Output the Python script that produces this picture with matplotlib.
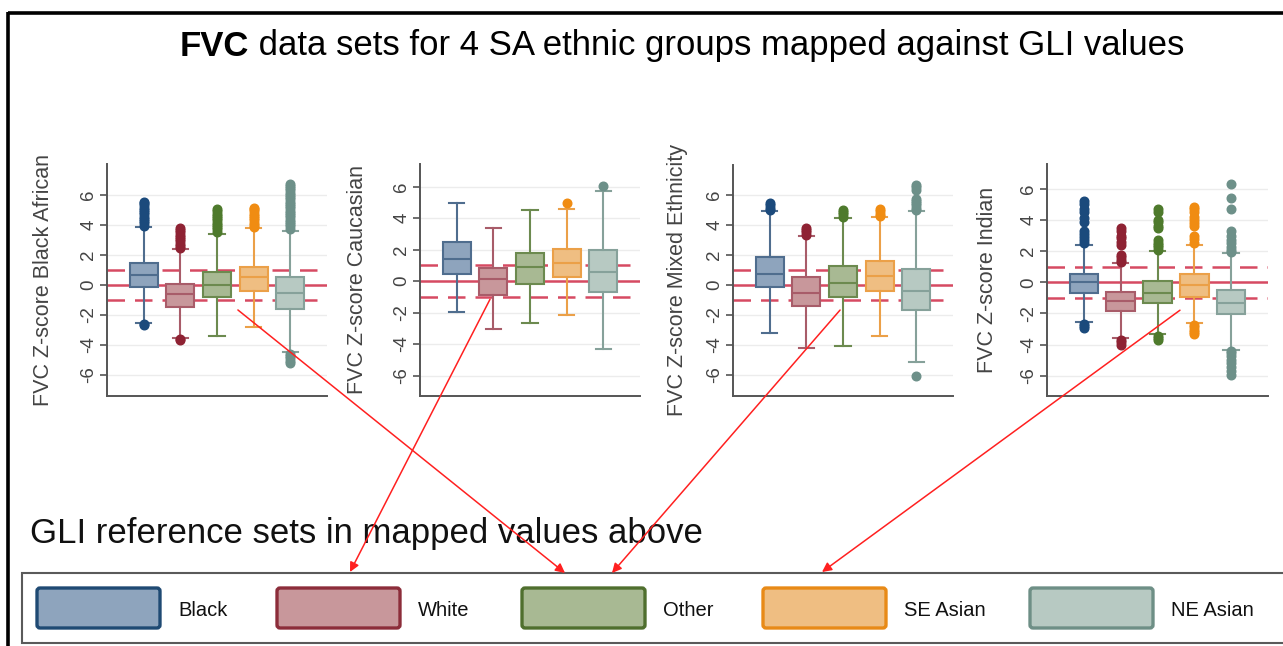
import matplotlib.pyplot as plt
from matplotlib.patches import Rectangle, FancyBboxPatch

plt.rcParams['font.family'] = ['Liberation Sans', 'DejaVu Sans']

W, H = 1283, 646

groups = ['Black', 'White', 'Other', 'SE Asian', 'NE Asian']
panel_labels = ['FVC Z-score Black African', 'FVC Z-score Caucasian',
                'FVC Z-score Mixed Ethnicity', 'FVC Z-score Indian']

# box statistics, one row per panel, one value per GLI reference group
medians = [[0.67, -0.60, 0.00, 0.51, -0.51],
           [1.39, 0.17, 0.90, 1.14, 0.60],
           [0.73, -0.51, 0.16, 0.60, -0.38],
           [0.00, -1.23, -0.69, -0.19, -1.34]]
q1s = [[-0.16, -1.44, -0.84, -0.38, -1.60],
       [0.43, -0.86, -0.21, 0.28, -0.69],
       [-0.16, -1.40, -0.82, -0.38, -1.67],
       [-0.69, -1.81, -1.34, -0.91, -2.03]]
q3s = [[1.44, 0.07, 0.84, 1.22, 0.51],
       [2.46, 0.86, 1.82, 2.04, 1.97],
       [1.89, 0.51, 1.29, 1.62, 1.04],
       [0.56, -0.65, 0.06, 0.56, -0.48]]
whis_lo = [[-2.56, -3.55, -3.40, -2.82, -4.49],
           [-1.93, -3.04, -2.68, -2.14, -4.33],
           [-3.22, -4.22, -4.04, -3.38, -5.11],
           [-2.53, -3.60, -3.33, -2.63, -4.32]]
whis_hi = [[3.84, 2.38, 3.40, 3.78, 3.62],
           [4.99, 3.39, 4.50, 4.56, 5.72],
           [4.93, 3.27, 4.44, 4.51, 4.93],
           [2.38, 1.21, 2.00, 2.38, 1.90]]

# outlying z-scores beyond the whiskers
fliers = [
    [[3.95, 4.1, 4.25, 4.4, 4.55, 4.7, 4.85, 5.0, 5.15, 5.3, 5.45, 5.55, -2.62, -2.7],
     [2.45, 2.6, 2.75, 2.9, 3.05, 3.2, 3.35, 3.5, 3.65, 3.8, -3.62, -3.7],
     [3.55, 3.7, 3.85, 4.0, 4.15, 4.3, 4.45, 4.6, 4.75, 4.9, 5.05],
     [3.85, 4.0, 4.15, 4.3, 4.45, 4.6, 4.75, 4.9, 5.05, 5.15],
     [3.75, 3.9, 4.05, 4.2, 4.35, 4.5, 4.65, 4.8, 4.95, 5.1, 5.25, 5.4, 5.55, 5.7,
      5.85, 6.0, 6.15, 6.3, 6.45, 6.6, 6.7, -4.6, -4.75, -4.9, -5.05, -5.2]],
    [[],
     [],
     [],
     [5.0],
     [6.06]],
    [[5.0, 5.15, 5.3, 5.45],
     [3.35, 3.5, 3.65, 3.8],
     [4.55, 4.7, 4.85, 5.0],
     [4.6, 4.75, 4.9, 5.05],
     [5.0, 5.15, 5.3, 5.45, 5.6, 5.75, 6.35, 6.5, 6.65, -6.05]],
    [[2.5, 2.7, 2.9, 3.1, 3.3, 3.9, 4.1, 4.5, 4.7, 5.0, 5.25, -2.65, -2.8, -2.95],
     [1.3, 1.45, 1.6, 1.75, 2.4, 2.6, 2.85, 3.0, 3.3, 3.5, -3.7, -3.85, -4.0],
     [2.1, 2.25, 2.4, 2.55, 2.7, 3.5, 3.65, 3.85, 4.0, 4.5, 4.7, -3.45, -3.6, -3.7],
     [2.5, 2.8, 2.95, 3.6, 3.8, 4.0, 4.2, 4.5, 4.7, 4.85, -2.75, -2.9, -3.05, -3.2, -3.35],
     [1.95, 2.1, 2.3, 2.5, 2.7, 3.0, 3.3, 4.7, 5.4, 6.3,
      -4.4, -4.55, -4.7, -5.0, -5.2, -5.45, -5.7, -5.95]],
]

# GLI reference band: predicted zero and +/- 1 z-score
ref_mid = 0.0
ref_band = [-1.0, 1.0]

fills = ['#8ea4bd', '#c8979b', '#a8b993', '#efbe82', '#b7c9c2']
lines = ['#4f6d8e', '#a85c69', '#6c8a4f', '#eba048', '#86a19a']
dots = ['#1b4a7c', '#8e2233', '#4e7a2c', '#f08c12', '#6d9089']
legend_edges = ['#1f4a73', '#8c2d3a', '#4f6f2e', '#e88a17', '#6e8f86']
ref_color = '#d64a62'

# panel rectangles in pixels: left, top, right, bottom
panel_px = [(107, 164, 327, 396), (420, 164, 640, 396),
            (733, 165, 953, 396), (1047, 164, 1268, 396)]
panel_ylims = [(-7.4, 8.05), (-7.3, 7.45), (-7.4, 8.0), (-7.3, 7.6)]
label_x = [-0.24, -0.236, -0.205, -0.22]

fig = plt.figure(figsize=(W / 100, H / 100), dpi=100)
fig.patch.set_facecolor('white')

axes = []
for k, (l, t, r, b) in enumerate(panel_px):
    ax = fig.add_axes([l / W, 1 - b / H, (r - l) / W, (b - t) / H])
    axes.append(ax)
    stats = []
    for i in range(len(groups)):
        stats.append(dict(med=medians[k][i], q1=q1s[k][i], q3=q3s[k][i],
                          whislo=whis_lo[k][i], whishi=whis_hi[k][i],
                          fliers=fliers[k][i]))
    for i in range(len(groups)):
        ax.bxp([stats[i]], positions=[i + 1], widths=0.77, capwidths=0.42,
               patch_artist=True, manage_ticks=False,
               boxprops=dict(facecolor=fills[i], edgecolor=lines[i], linewidth=1.5),
               medianprops=dict(color=lines[i], linewidth=1.5),
               whiskerprops=dict(color=lines[i], linewidth=1.5),
               capprops=dict(color=lines[i], linewidth=1.5),
               flierprops=dict(marker='o', markersize=6.2, markerfacecolor=dots[i],
                               markeredgecolor=dots[i], linestyle='none'))
    for coll in ax.patches:
        coll.set_zorder(3)
    for ln in ax.lines:
        ln.set_zorder(4)

    ax.axhline(ref_mid, color=ref_color, lw=1.8, zorder=2)
    for v in ref_band:
        ax.axhline(v, color=ref_color, lw=1.8, ls=(0, (7, 4)), zorder=2)

    ax.set_xlim(0, 6)
    ax.set_ylim(*panel_ylims[k])
    ax.set_yticks([-6, -4, -2, 0, 2, 4, 6])
    ax.set_yticklabels(['-6', '-4', '-2', '0', '2', '4', '6'])
    ax.set_xticks([])
    ax.grid(axis='y', color='#ececec', lw=1.0, zorder=0)
    ax.set_axisbelow(True)
    ax.tick_params(axis='y', length=5, width=1.2, color='#555555', pad=2,
                   labelsize=13.5, labelcolor='#444444', labelrotation=90)
    for lab in ax.get_yticklabels():
        lab.set_va('center')
    for side in ('top', 'right'):
        ax.spines[side].set_visible(False)
    for side in ('left', 'bottom'):
        ax.spines[side].set_color('#555555')
        ax.spines[side].set_linewidth(1.4)
    ax.set_ylabel(panel_labels[k], fontsize=15.5, color='#444444')
    ax.yaxis.set_label_coords(label_x[k], 0.5)

# overlay in pixel space for frame, texts, legend and arrows
ov = fig.add_axes([0, 0, 1, 1], zorder=10)
ov.set_xlim(0, W)
ov.set_ylim(H, 0)
ov.axis('off')
ov.patch.set_alpha(0)

ov.plot([8, W], [13, 13], color='black', lw=2.6, solid_capstyle='butt')
ov.plot([8, 8], [12, H], color='black', lw=2.6, solid_capstyle='butt')

t1 = ov.text(180, 46, 'FVC', fontsize=25, fontweight='bold', va='center', ha='left')
ov.annotate(' data sets for 4 SA ethnic groups mapped against GLI values',
            xy=(1, 0.5), xycoords=t1, fontsize=25, va='center', ha='left')

ov.text(30, 534, 'GLI reference sets in mapped values above', fontsize=25,
        va='center', ha='left', color='#111111')

# legend strip
ov.add_patch(Rectangle((22, 573), 1300, 70, facecolor='white',
                       edgecolor='#5a5a5a', lw=1.5))
leg_x = [37, 277, 522, 763, 1030]
for i, g in enumerate(groups):
    ov.add_patch(FancyBboxPatch((leg_x[i], 588), 123, 40,
                                boxstyle='round,pad=0,rounding_size=3',
                                facecolor=fills[i], edgecolor=legend_edges[i], lw=2.4))
    ov.text(leg_x[i] + 141, 610, g, fontsize=14.5, va='center', ha='left',
            color='#111111')

# arrows from the panels down to the matching reference set
arrow_from = [(0, 3.57, -1.67), (1, 1.91, -1.15), (2, 2.92, -1.67), (3, 3.61, -1.79)]
arrow_to = [(565, 573), (350, 572), (612, 573), (822, 572)]
for (k, xs, ys), (xe, ye) in zip(arrow_from, arrow_to):
    ov.annotate('', xy=(xe, ye), xycoords='data',
                xytext=(xs, ys), textcoords=axes[k].transData,
                arrowprops=dict(arrowstyle='-|>', color='#ff2020', lw=1.1,
                                mutation_scale=14, shrinkA=0, shrinkB=0))

fig.savefig('out.png', dpi=100)
